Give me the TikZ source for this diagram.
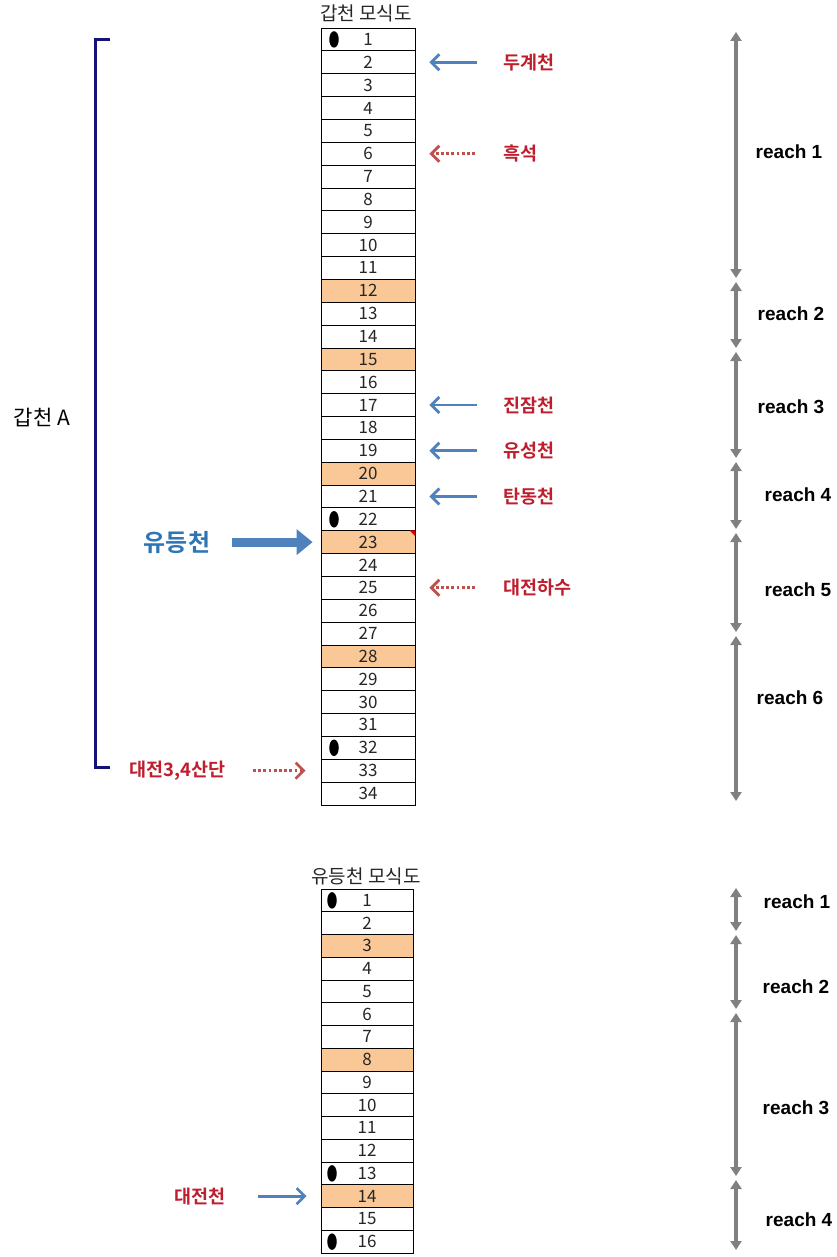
\documentclass[tikz,border=0pt]{standalone}
\usepackage{fontspec}
\setmainfont{Liberation Sans}
\newfontfamily\kr{Noto Sans CJK KR}
\newfontfamily\krb{Noto Sans CJK KR Bold}
\usetikzlibrary{arrows.meta,shapes.geometric}
\definecolor{org}{RGB}{250,200,150}
\definecolor{lblred}{RGB}{190,30,45}
\definecolor{arrred}{RGB}{192,80,77}
\definecolor{arrblue}{RGB}{79,129,189}
\definecolor{lblblue}{RGB}{46,117,182}
\definecolor{navyb}{RGB}{20,20,120}
\definecolor{reachgray}{RGB}{128,128,128}
\tikzset{
  cell/.style={draw=black, line width=0.8pt, minimum width=94pt, minimum height=22.85pt, inner sep=0pt, font=\kr\fontsize{17}{17}\selectfont, text=black!85},
  cellb/.style={cell, minimum width=92pt, minimum height=22.75pt},
  dotmark/.style={ellipse, fill=black, minimum width=9.5pt, minimum height=16.5pt, inner sep=0pt},
  redlbl/.style={font=\krb\fontsize{18.5}{18.5}\selectfont, text=lblred, anchor=west, inner sep=0pt},
  titlelbl/.style={font=\kr\fontsize{19}{19}\selectfont, text=black!85, inner sep=0pt},
  reachlbl/.style={font=\bfseries\fontsize{19}{19}\selectfont, inner sep=0pt},
  barrow/.style={draw=arrblue, line width=2.8pt, -{Straight Barb[length=8pt,width=16pt,line width=2.8pt]}},
  rarrow/.style={draw=arrred, line width=2.8pt, dash pattern=on 2.8pt off 2.4pt, -{Straight Barb[length=8pt,width=16pt,line width=2.8pt]}},
  blockarrow/.style={draw=arrblue, line width=9pt, -{Triangle[length=16pt,width=25pt]}},
  reacharrow/.style={draw=reachgray, line width=3.5pt, {Triangle[length=9pt,width=11pt]}-{Triangle[length=9pt,width=11pt]}},
}
\begin{document}
\begin{tikzpicture}[x=1pt,y=-1pt]
\useasboundingbox (0,0) rectangle (837,1257);
% ---------- table 1 ----------
\node[titlelbl] (title1) at (366,13) {갑천 모식도};
\foreach \i in {1,...,34} {
  \xdef\f{white}
  \foreach \j in {12,15,20,23,28} {\ifnum\i=\j \xdef\f{org}\fi}
  \node[cell, fill=\f] (g\i) at (368,{28+(\i-0.5)*22.85}) {\i};
}
\foreach \i in {1,22,32} {\node[dotmark] (gd\i) at (334,{28+(\i-0.5)*22.85}) {};}
\fill[red!85!black] (g23.north east) -- ++(-6,0) -- ++(6,6) -- cycle;
% ---------- table 2 ----------
\node[titlelbl] (title2) at (366,876) {유등천 모식도};
\foreach \i in {1,...,16} {
  \xdef\f{white}
  \foreach \j in {3,8,14} {\ifnum\i=\j \xdef\f{org}\fi}
  \node[cellb, fill=\f] (y\i) at (367,{889+(\i-0.5)*22.75}) {\i};
}
\foreach \i in {1,13,16} {\node[dotmark] (yd\i) at (332,{889+(\i-0.5)*22.75}) {};}
% ---------- right labels, table 1 ----------
\node[redlbl] (l2) at (503,{28+1.5*22.85}) {두계천};
\node[redlbl] (l6) at (503,{28+5.5*22.85}) {흑석};
\node[redlbl] (l17) at (503,{28+16.5*22.85}) {진잠천};
\node[redlbl] (l19) at (503,{28+18.5*22.85}) {유성천};
\node[redlbl] (l21) at (503,{28+20.5*22.85}) {탄동천};
\node[redlbl] (l25) at (503,{28+24.5*22.85}) {대전하수};
\foreach \i in {2,17,19,21} {\draw[barrow, shorten <=26pt, shorten >=14pt] (l\i.west) -- (g\i.east);}
\foreach \i in {6,25} {\draw[rarrow, shorten <=28pt, shorten >=14pt] (l\i.west) -- (g\i.east);}
% ---------- left labels ----------
\node[font=\krb\fontsize{24}{24}\selectfont, text=lblblue, inner sep=0pt] (lyd) at (177,{28+22.5*22.85}) {유등천};
\draw[blockarrow, shorten <=22pt, shorten >=8pt] (lyd.east) -- (g23.west);
\node[redlbl, anchor=east] (l33) at (226,{28+32.5*22.85}) {대전3,4산단};
\draw[rarrow, shorten <=27pt, shorten >=15pt] (l33.east) -- (g33.west);
\node[redlbl, anchor=east] (l2b) at (226,{889+13.5*22.75}) {대전천};
\draw[barrow, shorten <=32pt, shorten >=14pt] (l2b.east) -- (y14.west);
% ---------- bracket ----------
\coordinate (bt) at (110,40);
\coordinate (bb) at (110,767);
\draw[navyb, line width=3pt] (bt) -- (95,40) -- (95,767) -- (bb);
\node[font=\kr\fontsize{21}{21}\selectfont, inner sep=0pt] (ga) at (42,418) {갑천 A};
% ---------- reach arrows, table 1 ----------
\foreach \n/\y in {0/30,1/280,2/350,3/460,4/531,5/634,6/803} {\coordinate (r\n) at (736,\y);}
\foreach \a/\b in {0/1,1/2,2/3,3/4,4/5,5/6} {\draw[reacharrow, shorten <=2pt, shorten >=2pt] (r\a) -- (r\b);}
\foreach \n/\x/\y in {1/789/152,2/791/314,3/791/407,4/798/495,5/798/590,6/790/698} {\node[reachlbl] (rl\n) at (\x,\y) {reach \n};}
% ---------- reach arrows, table 2 ----------
\foreach \n/\y in {0/886,1/933,2/1011,3/1178,4/1252} {\coordinate (s\n) at (736,\y);}
\foreach \a/\b in {0/1,1/2,2/3,3/4} {\draw[reacharrow, shorten <=2pt, shorten >=2pt] (s\a) -- (s\b);}
\foreach \n/\x/\y in {1/797/902,2/796/987,3/796/1108,4/799/1220} {\node[reachlbl] (sl\n) at (\x,\y) {reach \n};}
\end{tikzpicture}
\end{document}
